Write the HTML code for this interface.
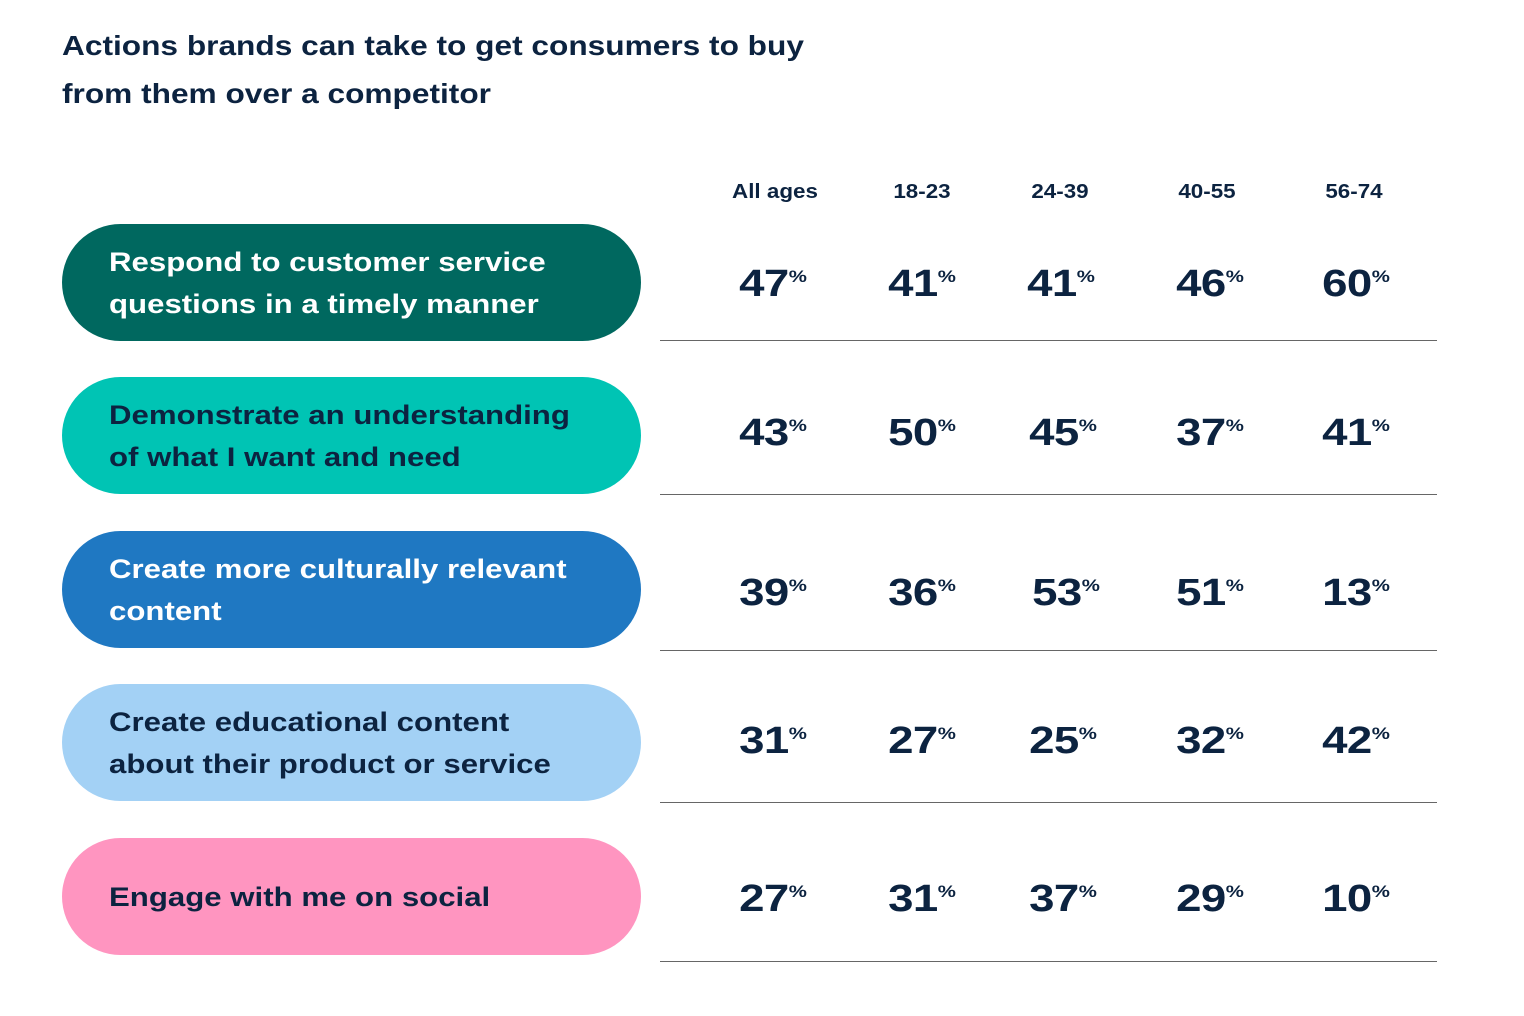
<!DOCTYPE html>
<html><head><meta charset="utf-8"><style>
body{margin:0;width:1524px;height:1016px;background:#fff;font-family:"Liberation Sans",sans-serif;color:#0c2340;position:relative;overflow:hidden}
.t{position:absolute;left:62px;top:22px;font-size:28px;font-weight:bold;line-height:48px;transform:scaleX(1.13);transform-origin:left top;white-space:nowrap}
.p{position:absolute;left:62px;width:579px;height:117px;border-radius:59px;box-sizing:border-box;padding-left:47px;display:flex;align-items:center;font-size:27px;font-weight:bold;line-height:42px}
.p span{display:inline-block;transform:scaleX(1.155);transform-origin:left center;white-space:nowrap}
.h{position:absolute;top:181px;width:140px;margin-left:-70px;text-align:center;font-size:20px;font-weight:bold;transform:scaleX(1.12)}
.n{position:absolute;width:140px;margin-left:-70px;text-align:center;font-size:38px;font-weight:900;line-height:40px;letter-spacing:-0.5px;transform:scaleX(1.2)}
.n sup{font-size:17px;vertical-align:0;position:relative;top:-14px;letter-spacing:0}
.l{position:absolute;left:660px;width:777px;height:1px;background:#666}
</style></head><body>
<div class="t">Actions brands can take to get consumers to buy<br>from them over a competitor</div>
<div class="h" style="left:775px">All ages</div>
<div class="h" style="left:922px">18-23</div>
<div class="h" style="left:1060px">24-39</div>
<div class="h" style="left:1207px">40-55</div>
<div class="h" style="left:1354px">56-74</div>

<div class="p" style="top:224px;background:#00685f;color:#fff"><span>Respond to customer service<br>questions in a timely manner</span></div>
<div class="p" style="top:377px;background:#00c4b4"><span>Demonstrate an understanding<br>of what I want and need</span></div>
<div class="p" style="top:531px;background:#1f78c2;color:#fff"><span>Create more culturally relevant<br>content</span></div>
<div class="p" style="top:684px;background:#a3d1f5"><span>Create educational content<br>about their product or service</span></div>
<div class="p" style="top:838px;background:#ff95c0"><span>Engage with me on social</span></div>

<div class="l" style="top:340px"></div>
<div class="l" style="top:494px"></div>
<div class="l" style="top:650px"></div>
<div class="l" style="top:802px"></div>
<div class="l" style="top:961px"></div>

<div class="n" style="left:773px;top:264px">47<sup>%</sup></div>
<div class="n" style="left:922px;top:264px">41<sup>%</sup></div>
<div class="n" style="left:1061px;top:264px">41<sup>%</sup></div>
<div class="n" style="left:1210px;top:264px">46<sup>%</sup></div>
<div class="n" style="left:1356px;top:264px">60<sup>%</sup></div>

<div class="n" style="left:773px;top:413px">43<sup>%</sup></div>
<div class="n" style="left:922px;top:413px">50<sup>%</sup></div>
<div class="n" style="left:1063px;top:413px">45<sup>%</sup></div>
<div class="n" style="left:1210px;top:413px">37<sup>%</sup></div>
<div class="n" style="left:1356px;top:413px">41<sup>%</sup></div>

<div class="n" style="left:773px;top:573px">39<sup>%</sup></div>
<div class="n" style="left:922px;top:573px">36<sup>%</sup></div>
<div class="n" style="left:1066px;top:573px">53<sup>%</sup></div>
<div class="n" style="left:1210px;top:573px">51<sup>%</sup></div>
<div class="n" style="left:1356px;top:573px">13<sup>%</sup></div>

<div class="n" style="left:773px;top:721px">31<sup>%</sup></div>
<div class="n" style="left:922px;top:721px">27<sup>%</sup></div>
<div class="n" style="left:1063px;top:721px">25<sup>%</sup></div>
<div class="n" style="left:1210px;top:721px">32<sup>%</sup></div>
<div class="n" style="left:1356px;top:721px">42<sup>%</sup></div>

<div class="n" style="left:773px;top:879px">27<sup>%</sup></div>
<div class="n" style="left:922px;top:879px">31<sup>%</sup></div>
<div class="n" style="left:1063px;top:879px">37<sup>%</sup></div>
<div class="n" style="left:1210px;top:879px">29<sup>%</sup></div>
<div class="n" style="left:1356px;top:879px">10<sup>%</sup></div>
</body></html>
